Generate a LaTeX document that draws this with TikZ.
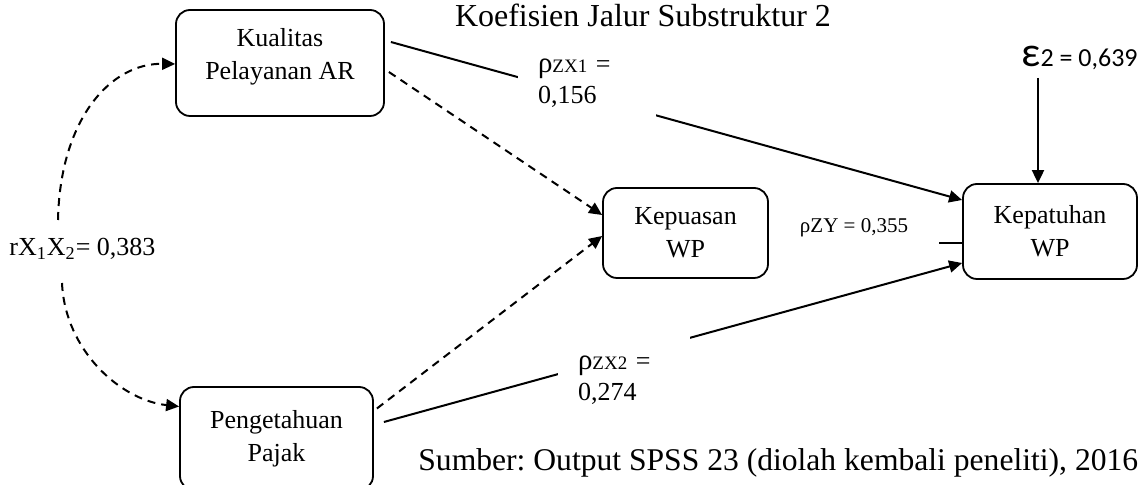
\documentclass[tikz,border=0pt]{standalone}
\usepackage{fontspec}
\setmainfont{Liberation Serif}
\newfontfamily\calib{Carlito}
\usetikzlibrary{arrows.meta,calc}
\begin{document}
\frenchspacing
\begin{tikzpicture}[x=0.5pt,y=-0.5pt,
 box/.style={draw, line width=0.9pt, rounded corners=7pt, inner sep=0pt, align=center, font=\fontsize{13pt}{16.5pt}\selectfont},
 conn/.style={line width=1pt, -{Triangle[length=6.5pt,width=6pt]}},
 dconn/.style={conn, dash pattern=on 4pt off 3pt},
 plain/.style={line width=1pt},
 lbl/.style={fill=white, inner xsep=10pt, inner ysep=0pt, align=left, font=\fontsize{13pt}{15.5pt}\selectfont},
]
\useasboundingbox (0,0) rectangle (1141,485);
\clip (0,0) rectangle (1141,485);

% title and source
\node[anchor=base, inner sep=0pt, font=\fontsize{16pt}{18pt}\selectfont] (title) at (643,27) {Koefisien Jalur Substruktur 2};
\node[anchor=base west, inner sep=0pt, font=\fontsize{15.8pt}{18pt}\selectfont] (src) at (418,471) {Sumber: Output SPSS 23 (diolah kembali peneliti), 2016};

% boxes
\node[box, minimum width=104pt, minimum height=53pt] (kual) at (280,63) {Kualitas\\Pelayanan AR\rule[-9pt]{0pt}{9pt}};
\node[box, minimum width=82.5pt, minimum height=45pt] (kepua) at (685.5,233) {Kepuasan\\WP};
\node[box, minimum width=87pt, minimum height=47.5pt] (kepat) at (1050,231.5) {Kepatuhan\\WP};
\node[box, minimum width=96.5pt, minimum height=51.5pt] (peng) at (276.5,438.5) {Pengetahuan\\Pajak};

% correlation label
\node[anchor=base west, inner sep=0pt, font=\fontsize{13pt}{15pt}\selectfont] (rlab) at (9,256) {rX\textsubscript{1}X\textsubscript{2}= 0,383};
\coordinate (ctop) at (58,220);
\coordinate (cbot) at (62,283);
\draw[dconn] (ctop) .. controls (60,120) and (110,63) .. ($(kual.west)+(0,1)$);
\draw[dconn] (cbot) .. controls (65,350) and (120,400) .. ($(peng.west)+(0,-32)$);

% dashed paths to Kepuasan
\draw[dconn] ($(kual.east)+(4,9)$) -- ($(kepua.west)+(0,-18)$);
\draw[dconn] ($(peng.east)+(3,-30)$) -- ($(kepua.west)+(0,3)$);

% solid paths to Kepatuhan
\draw[conn] ($(kual.east)+(6,-21)$) -- ($(kepat.west)+(0,-31.5)$);
\node[lbl, text width=49pt, minimum height=48pt] (l1) at (587,83) {{\fontsize{14.5pt}{15pt}\selectfont ρ}{\fontsize{9.5pt}{10pt}\selectfont ZX1} =\\0,156};

\draw[conn] ($(peng.east)+(10,-16.5)$) -- ($(kepat.west)+(0,31.5)$);
\node[lbl, text width=46pt, minimum height=48pt] (l2) at (624,380) {{\fontsize{14.5pt}{15pt}\selectfont ρ}{\fontsize{9.5pt}{10pt}\selectfont ZX2} =\\0,274};

\draw[plain] ($(kepua.east)+(0,10)$) -- ($(kepat.west)+(0,11.5)$);
\node[fill=white, inner sep=0pt, minimum width=85pt, minimum height=28pt, font=\fontsize{10.5pt}{12pt}\selectfont] (l3) at (854,228) {ρZY = 0,355};

% error term
\node[anchor=base west, inner sep=0pt, font=\calib] (e2) at (1021,67) {{\fontsize{21pt}{21pt}\selectfont ε}{\fontsize{13pt}{15pt}\selectfont 2 = 0,639}};
\coordinate (etop) at (1038,78);
\draw[conn] (etop) -- (etop |- kepat.north);
\end{tikzpicture}
\end{document}
